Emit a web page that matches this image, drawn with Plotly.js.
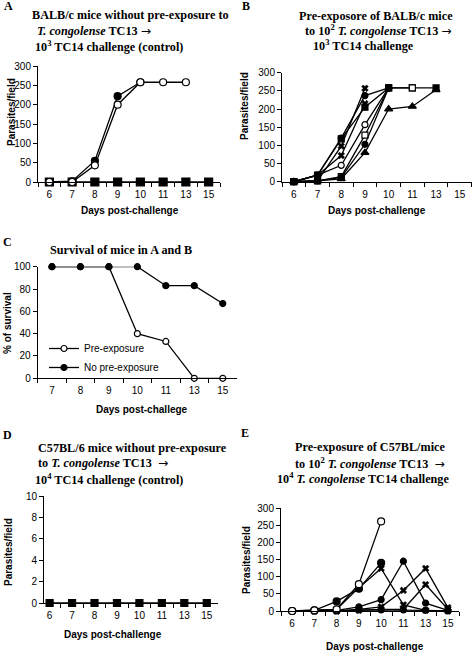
<!DOCTYPE html>
<html><head><meta charset="utf-8">
<script src="https://cdn.plot.ly/plotly-3.0.1.min.js"></script>
<style>html,body{margin:0;padding:0;background:#fff}#c{width:474px;height:653px}</style>
</head><body><div id="c"></div>
<script>
// ---- data ----
const days8 = ["6","7","8","9","10","11","13","15"];
const daysC = ["7","8","9","10","11","13","15"];
// Panel A
const aOpen = [0,0,43,200,258,258,258];
const aFilled = [0,2,55,222,258];
const aControl = [0,0,0,0,0,0,0,0];
// Panel B
const bFillSq = [0,18,118,205,258,258,258];
const bOpenSq = [0,2,14,128,258,258];
const bTri = [0,2,8,80,200,207,253];
const bOpenCirc = [0,18,45,157,258];
const bFillCirc1 = [0,2,12,103,258];
const bFillCirc2 = [0,18,120,237,258];
const bX1 = [0,2,98,257];
const bX2 = [0,18,72,215];
// Panel C
const cPre = [100,100,100,40,33,0,0];
const cNoPre = [100,100,100,100,83,83,67];
// Panel D
const dControl = [0,0,0,0,0,0,0,0];
// Panel E
const eOpenCirc = [0,2,5,78,261];
const eFillCirc1 = [0,2,28,65,140];
const eStar1 = [0,2,5,68,124,18,2,0];
const eFillCirc2 = [0,2,2,12,33,145,23,2];
const eStar2 = [0,0,0,5,12,60,124,10];
const eStar3 = [0,0,0,2,5,5,77,5];
const eFillCirc3 = [0,0,0,3,3,3,2,0];

const W = 474, H = 653;
const SANS = "Liberation Sans, Arial, sans-serif";
const SERIF = "Liberation Serif, Times New Roman, serif";
const ARROW = '<span style="font-family:\'DejaVu Sans\';font-weight:normal">→</span>';
const px = v => v / W;
const py = v => 1 - v / H;

function tr(xa, ya, x, y, sym, filled, size, name, legend) {
  return {
    type: 'scatter', mode: 'lines+markers', xaxis: xa, yaxis: ya,
    x: x.slice(0, y.length), y: y, name: name || '', showlegend: !!legend,
    cliponaxis: false,
    line: {color: '#000', width: 1.3},
    marker: {symbol: sym, size: size, color: filled ? '#000' : '#fff',
             line: {color: '#000', width: 1.2}}
  };
}
function trX(xa, ya, x, y, size) {
  const t = tr(xa, ya, x, y, 'x', true, size);
  t.marker.line = {color: '#000', width: 0.5};
  return t;
}

const data = [
  // A
  tr('x','y',days8,aControl,'square',true,8),
  tr('x','y',days8,aFilled,'circle',true,7),
  tr('x','y',days8,aOpen,'circle',false,7),
  // B
  tr('x2','y2',days8,bFillSq,'square',true,6),
  tr('x2','y2',days8,bOpenSq,'square',false,6),
  tr('x2','y2',days8,bTri,'triangle-up',true,7),
  tr('x2','y2',days8,bOpenCirc,'circle',false,6),
  tr('x2','y2',days8,bFillCirc1,'circle',true,6),
  tr('x2','y2',days8,bFillCirc2,'circle',true,6),
  trX('x2','y2',days8,bX1,6),
  trX('x2','y2',days8,bX2,6),
  // C
  tr('x3','y3',daysC,cPre,'circle',false,6,'Pre-exposure',true),
  tr('x3','y3',daysC,cNoPre,'circle',true,6,'No pre-exposure',true),
  // D
  tr('x4','y4',days8,dControl,'square',true,7),
  // E
  tr('x5','y5',days8,eFillCirc3,'circle',true,6),
  trX('x5','y5',days8,eStar3,6),
  trX('x5','y5',days8,eStar2,6),
  tr('x5','y5',days8,eFillCirc2,'circle',true,6),
  trX('x5','y5',days8,eStar1,6),
  tr('x5','y5',days8,eFillCirc1,'circle',true,7),
  tr('x5','y5',days8,eOpenCirc,'circle',false,7)
];

function xax(l, r, cats, range, anchor) {
  return {domain:[px(l),px(r)], anchor:anchor, type:'category', categoryorder:'array',
    categoryarray:cats, range:range, tickson:'boundaries', showline:true, linecolor:'#000',
    linewidth:1, ticks:'outside', ticklen:4, tickcolor:'#000', showgrid:false, zeroline:false,
    ticklabelstandoff:3,
    tickfont:{family:SANS,size:10,color:'#000'}, fixedrange:true};
}
function yax(t, b, range, dtick, anchor) {
  return {domain:[py(b),py(t)], anchor:anchor, range:range, dtick:dtick, showline:true,
    linecolor:'#000', linewidth:1, ticks:'outside', ticklen:4, tickcolor:'#000',
    showgrid:false, zeroline:false, tickfont:{family:SANS,size:10,color:'#000'}, fixedrange:true};
}

const ann = [];
function txt(s, x, y, opt) {
  opt = opt || {};
  ann.push(Object.assign({text:s, xref:'paper', yref:'paper', x:px(x), y:py(y),
    xanchor:opt.xa || 'left', yanchor:'middle', showarrow:false, align:'left',
    textangle: opt.rot || 0,
    font:{family:opt.f || SERIF, size:opt.s || 12.2, color:'#000'}}));
}
// panel letters
txt('<b>A</b>', 2, 6, {s:12});
txt('<b>B</b>', 240, 6, {s:12});
txt('<b>C</b>', 1, 242, {s:12});
txt('<b>D</b>', 1, 435, {s:12});
txt('<b>E</b>', 239, 433, {s:12});
// titles
txt('<b>BALB/c mice without pre-exposure to</b>', 30, 15);
txt('<b><i>T. congolense</i> TC13 </b>' + ARROW, 35, 31.5);
txt('<b>10<sup>3</sup> TC14 challenge (control)</b>', 33, 46.5);
txt('<b>Pre-exposore of BALB/c mice</b>', 376, 16, {xa:'center'});
txt('<b>to 10<sup>2</sup> <i>T. congolense</i> TC13 </b>' + ARROW, 378, 30, {xa:'center'});
txt('<b>10<sup>3</sup> TC14 challenge</b>', 311, 45);
txt('<b>Survival of mice in A and B</b>', 48, 250);
txt('<b>C57BL/6 mice without pre-exposure</b>', 36, 448);
txt('<b>to <i>T. congolense</i> TC13  </b>' + ARROW, 36, 463);
txt('<b>10<sup>4</sup> TC14 challenge (control)</b>', 33, 479);
txt('<b>Pre-exposure of C57BL/mice</b>', 370, 447, {xa:'center'});
txt('<b>to 10<sup>2</sup> <i>T. congolense</i> TC13  </b>' + ARROW, 370, 463, {xa:'center'});
txt('<b>10<sup>4</sup> <i>T. congolense</i> TC14 challenge</b>', 275, 478);
// axis titles
const at = {f:SANS, s:10, xa:'center'};
txt('<b>Days post-challenge</b>', 129.5, 210, at);
txt('<b>Days post-challenge</b>', 376.7, 210, at);
txt('<b>Days post-challege</b>', 142, 409, at);
txt('<b>Days post-challenge</b>', 113, 634, at);
txt('<b>Days post-challenge</b>', 375, 646.5, at);
const yt = {f:SANS, s:10, xa:'center', rot:-90};
txt('<b>Parasites/field</b>', 12, 112, yt);
txt('<b>Parasites/field</b>', 244, 106, yt);
txt('<b>% of survival</b>', 8, 323, yt);
txt('<b>Parasites/field</b>', 8, 552, yt);
txt('<b>Parasites/field</b>', 246, 560, yt);

const layout = {
  width:W, height:H, autosize:false, margin:{l:0,r:0,t:0,b:0},
  paper_bgcolor:'#fff', plot_bgcolor:'rgba(0,0,0,0)',
  xaxis: xax(38,220,days8,[-0.5,7.5],'y'),
  yaxis: yax(66,182,[0,300],50,'x'),
  xaxis2: xax(282,471.6,days8,[-0.5,7.5],'y2'),
  yaxis2: yax(72.7,181.7,[0,300],50,'x2'),
  xaxis3: xax(37.7,237,daysC,[-0.5,6.5],'y3'),
  yaxis3: yax(266.7,378.3,[0,100],20,'x3'),
  xaxis4: xax(44,218,days8,[-0.25,7.5],'y4'),
  yaxis4: yax(496,603,[0,10],2,'x4'),
  xaxis5: xax(281,459,days8,[-0.5,7.5],'y5'),
  yaxis5: yax(508,611,[0,300],50,'x5'),
  showlegend:true,
  legend:{x:px(44), y:py(334), xanchor:'left', yanchor:'top', bgcolor:'rgba(0,0,0,0)',
    font:{family:SANS,size:10,color:'#000'}, itemwidth:30, tracegroupgap:0},
  annotations: ann
};
Plotly.newPlot('c', data, layout, {staticPlot:true, displayModeBar:false});
</script></body></html>
